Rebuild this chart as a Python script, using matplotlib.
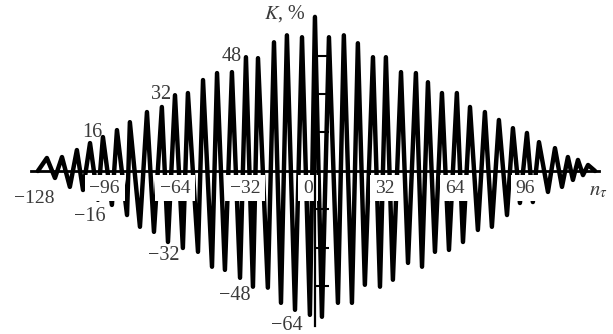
import matplotlib
matplotlib.use("Agg")
import matplotlib.pyplot as plt

plt.rcParams['font.family'] = ['Liberation Serif', 'DejaVu Serif']
plt.rcParams['mathtext.fontset'] = 'stix'

# ---- data ----
curve_start_n = -126.5
curve_end_n = 127.9

peak_n = [-122.4, -115.5, -108.7, -102.7, -96.8, -90.4, -84.5, -76.7, -69.9, -63.9,
          -58.0, -51.1, -44.7, -37.9, -31.5, -26.0, -18.7, -12.8, -5.9, 0.0,
          6.4, 13.2, 19.6, 26.5, 32.4, 39.3, 46.1, 51.6, 58.0, 64.8,
          70.8, 77.6, 84.0, 90.4, 96.8, 102.3, 109.6, 115.5, 120.1, 124.7]
peak_k = [5.4, 5.8, 8.7, 11.6, 14.1, 17.0, 20.3, 24.5, 26.6, 31.5,
          32.4, 37.8, 40.7, 41.1, 47.3, 46.9, 53.5, 56.4, 55.6, 64.0,
          55.6, 56.4, 53.1, 47.3, 47.3, 41.1, 40.7, 36.9, 32.4, 32.4,
          26.6, 24.5, 21.2, 17.8, 15.8, 12.0, 9.5, 5.8, 4.6, 2.5]

trough_n = [-118.7, -111.9, -105.9, -99.1, -92.7, -85.8, -79.9, -73.5, -67.1, -60.3,
            -53.4, -47.0, -41.1, -34.2, -28.3, -21.5, -15.5, -9.1, -2.3,
            3.2, 10.5, 16.9, 22.8, 29.7, 35.6, 42.5, 48.9, 54.8, 61.2,
            67.6, 74.4, 80.8, 87.7, 93.6, 99.5, 106.4, 112.8, 117.8, 122.4]
trough_k = [-2.9, -6.6, -7.9, -12.0, -14.1, -18.3, -23.2, -25.3, -29.5, -32.0,
            -33.6, -39.8, -41.1, -44.4, -48.1, -48.5, -54.8, -57.7, -59.8,
            -60.6, -54.8, -54.8, -47.3, -48.1, -45.2, -38.2, -39.8, -33.6, -32.8,
            -29.5, -24.5, -23.2, -18.3, -13.3, -12.9, -8.7, -6.6, -3.7, -1.7]

x_tick_values = [-96, -64, -32, 0, 32, 64, 96]
x_tick_labels = ['\u221296', '\u221264', '\u221232', '0', '32', '64', '96']
y_tick_values = [-48, -32, -16, 16, 32, 48]
y_label_values = [16, 32, 48, -16, -32, -48, -64]
y_label_texts = ['16', '32', '48', '\u221216', '\u221232', '\u221248', '\u221264']

# ---- build the polyline: start, alternating peaks / troughs, end ----
n_pts = [curve_start_n]
k_pts = [0.0]
for i in range(len(peak_n)):
    n_pts.append(peak_n[i]); k_pts.append(peak_k[i])
    if i < len(trough_n):
        n_pts.append(trough_n[i]); k_pts.append(trough_k[i])
n_pts.append(curve_end_n); k_pts.append(0.0)

fig = plt.figure(figsize=(6.13, 3.34), dpi=100, facecolor='white')
ax = fig.add_axes([0, 0, 1, 1])
ax.set_xlim(-143.8, 136.1)
ax.set_ylim(-67.75, 71.07)

ax.plot(n_pts, k_pts, color='black', lw=3.2, solid_joinstyle='round',
        solid_capstyle='round', zorder=2)

for s in ['top', 'right']:
    ax.spines[s].set_visible(False)
ax.spines['left'].set_position(('data', 0))
ax.spines['bottom'].set_position(('data', 0))
ax.spines['left'].set_bounds(-64.5, 64.5)
ax.spines['bottom'].set_bounds(-129.5, 129.5)
ax.spines['left'].set_linewidth(1.6)
ax.spines['bottom'].set_linewidth(2.0)
ax.spines['left'].set_zorder(4)
ax.spines['bottom'].set_zorder(4)

ax.set_xticks([])
ax.set_yticks(y_tick_values)
ax.tick_params(axis='y', direction='in', length=10, width=1.5, labelleft=False)

txt_col = '#3a3a3a'
# x tick labels with white boxes
for v, lab in zip(x_tick_values, x_tick_labels):
    xpos = v if v != 0 else -3.2
    ax.text(xpos, -7.1, lab, ha='center', va='center', fontsize=14, color=txt_col,
            zorder=3, bbox=dict(boxstyle='square,pad=0.25', fc='white', ec='none'))
ax.text(-128.3, -11.6, '\u2212128', ha='center', va='center', fontsize=14, color=txt_col, zorder=3)

# y value labels along the envelope
y_label_pos_n = [-101.8, -70.3, -38.0, -102.7, -68.9, -36.5, -12.8]
y_label_pos_k = [16.2, 32.0, 47.4, -19.1, -35.3, -51.6, -64.4]
for xn, yk, lab in zip(y_label_pos_n, y_label_pos_k, y_label_texts):
    ax.text(xn, yk, lab, ha='center', va='center', fontsize=14.5, color=txt_col, zorder=3)

ax.text(-13.7, 65.3, r'$K$, %', ha='center', va='center', fontsize=14.5, color=txt_col, zorder=3)
ax.text(129.5, -8.3, r'$n_\tau$', ha='center', va='center', fontsize=15, color=txt_col, zorder=3)

fig.savefig('out.png', dpi=100, facecolor='white')
